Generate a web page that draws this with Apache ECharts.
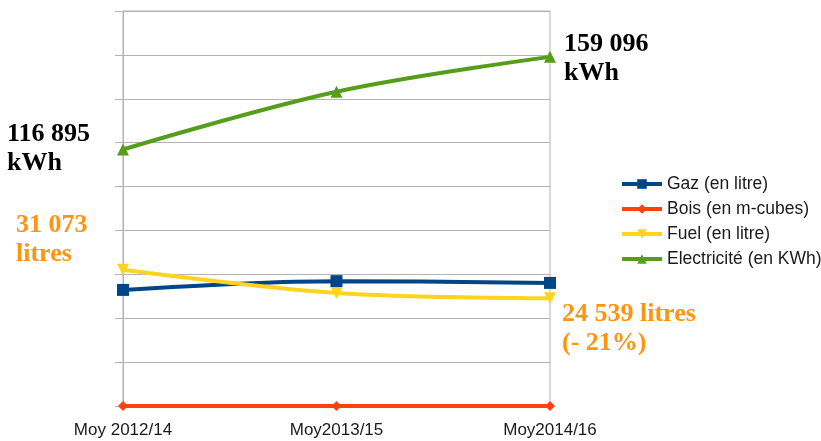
<!DOCTYPE html>
<html>
<head>
<meta charset="utf-8">
<script src="https://cdn.jsdelivr.net/npm/echarts@6/dist/echarts.min.js"></script>
<style>
    html, body { margin: 0; padding: 0; background: #ffffff; }
    #chart { width: 821px; height: 441px; }
</style>
</head>
<body>
<div id="chart"></div>
<script>
    // periods
    var categories = ['Moy 2012/14', 'Moy2013/15', 'Moy2014/16'];
    // values (no visible y labels)
    var gaz = [52900, 56900, 56100];
    var bois = [0, 0, 0];
    var fuel = [62100, 51500, 49100];
    var electricite = [116895, 143200, 159096];

    var seriesNames = ['Gaz (en litre)', 'Bois (en m-cubes)', 'Fuel (en litre)', 'Electricité (en KWh)'];
    var colors = ['#004586', '#ff420e', '#ffd320', '#579d1c'];
    var symbols = ['rect', 'diamond', 'triangle', 'triangle'];

    var myChart = echarts.init(document.getElementById('chart'));

    var values = [gaz, bois, fuel, electricite];
    var series = [];
    for (var i = 0; i < values.length; i++) {
        series.push({
            name: seriesNames[i],
            type: 'line',
            data: values[i],
            smooth: i === 1 ? false : 0.35,
            symbol: symbols[i],
            symbolSize: i === 1 ? 10 : 12,
            symbolRotate: i === 2 ? 180 : 0,
            lineStyle: { color: colors[i], width: 4 },
            itemStyle: { color: colors[i] },
            z: i === 1 ? 3 : 2
        });
    }

    var bigText = 'bold 26px "Liberation Serif"';

    var option = {
        animation: false,
        color: colors,
        grid: {
            left: 123,
            right: 271,
            top: 11,
            bottom: 35,
            show: true,
            borderColor: '#b3b3b3',
            borderWidth: 1
        },
        xAxis: {
            type: 'category',
            data: categories,
            boundaryGap: false,
            axisLine: { show: false },
            axisTick: { show: false },
            splitLine: { show: false },
            axisLabel: {
                margin: 16,
                color: '#1a1a1a',
                fontFamily: 'Liberation Sans',
                fontSize: 17
            }
        },
        yAxis: {
            type: 'value',
            min: 0,
            max: 180000,
            interval: 20000,
            axisLabel: { show: false },
            axisLine: { show: true, lineStyle: { color: '#b3b3b3', width: 1 } },
            axisTick: { show: true, length: 8, lineStyle: { color: '#b3b3b3' } },
            splitLine: { show: true, lineStyle: { color: '#b3b3b3', width: 1 } }
        },
        legend: {
            orient: 'vertical',
            left: 615,
            top: 170,
            itemWidth: 40,
            itemHeight: 12,
            itemGap: 7,
            data: seriesNames,
            lineStyle: { width: 4 },
            textStyle: {
                color: '#1a1a1a',
                fontFamily: 'Liberation Sans',
                fontSize: 17.5
            }
        },
        graphic: [
            { type: 'text', left: 7, top: 120, style: { text: '116 895\nkWh', font: bigText, fill: '#000000', lineHeight: 29 } },
            { type: 'text', left: 16, top: 211, style: { text: '31 073\nlitres', font: bigText, fill: '#ff950e', lineHeight: 29 } },
            { type: 'text', left: 564, top: 30, style: { text: '159 096\nkWh', font: bigText, fill: '#000000', lineHeight: 29 } },
            { type: 'text', left: 562, top: 300, style: { text: '24 539 litres\n(- 21%)', font: bigText, fill: '#ff950e', lineHeight: 29 } }
        ],
        series: series
    };

    myChart.setOption(option);
</script>
</body>
</html>
